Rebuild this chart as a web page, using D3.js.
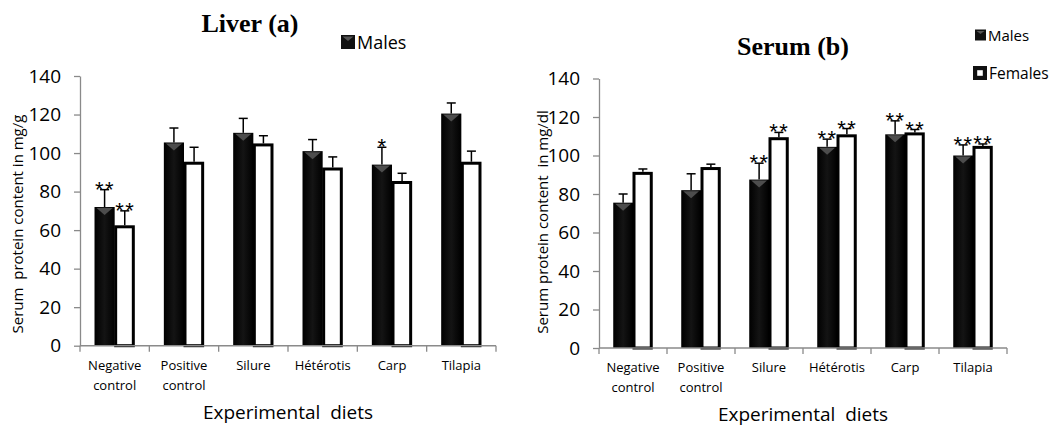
<!DOCTYPE html>
<html><head><meta charset="utf-8">
<script src="https://cdn.jsdelivr.net/npm/d3@7"></script>
<style>body{margin:0;background:#fff;} svg{display:block;}</style>
</head><body><svg id="c" width="1053" height="427"></svg>
<script>
// ---------- data ----------
const categories = ["Negative control","Positive control","Silure","Hétérotis","Carp","Tilapia"];
const tickLabelLines = [["Negative","control"],["Positive","control"],["Silure"],["Hétérotis"],["Carp"],["Tilapia"]];
const yTicks = [0,20,40,60,80,100,120,140];
const series = ["Males","Females"];

const liverMales      = [72, 105.5, 110.5, 101, 94, 120.5];
const liverMalesSD    = [9, 7.5, 7.5, 6, 9, 5.5];
const liverFemales    = [62.5, 95.5, 105, 92.5, 85.5, 95.5];
const liverFemalesSD  = [7.5, 7.5, 4, 5.5, 4, 5.5];
const liverMalesSig   = ["**","","","","*",""];
const liverFemalesSig = ["**","","","","",""];

const serumMales      = [75.5, 82, 87.5, 104.5, 111, 100];
const serumMalesSD    = [4.5, 8.5, 8.5, 4, 7, 5.5];
const serumFemales    = [91.5, 94, 109.5, 111, 112, 105];
const serumFemalesSD  = [1.5, 1.5, 2.5, 3, 1.5, 1];
const serumMalesSig   = ["","","**","**","**","**"];
const serumFemalesSig = ["","","**","**","**","**"];

// ---------- drawing ----------
const svg = d3.select("#c");
const FONT = "'Open Sans', sans-serif";

const defs = svg.append("defs");
const g1 = defs.append("linearGradient").attr("id","maleGrad").attr("x1","0").attr("x2","1");
g1.append("stop").attr("offset","0").attr("stop-color","#000");
g1.append("stop").attr("offset","0.5").attr("stop-color","#141414");
g1.append("stop").attr("offset","1").attr("stop-color","#000");

function panel(cfg){
  const x = d3.scaleBand().domain(categories).range([cfg.x0, cfg.x1]).padding(0);
  const xs = d3.scaleBand().domain(series).range([0, x.bandwidth()]).paddingInner(0).paddingOuter(0.72);
  const y = d3.scaleLinear().domain([0,140]).range([cfg.yBot, cfg.yTop]);
  const g = svg.append("g");

  // y axis
  const ya = g.append("g").attr("transform",`translate(${cfg.x0},0)`)
    .call(d3.axisLeft(y).tickValues(yTicks).tickSize(6).tickPadding(13).tickSizeOuter(0));
  ya.select(".domain").attr("stroke","#8a8a8a").attr("stroke-width",1.3);
  ya.selectAll(".tick line").attr("stroke","#8a8a8a").attr("stroke-width",1.3);
  ya.selectAll(".tick text").attr("font-family",FONT).attr("font-size",19).attr("fill","#000");

  // y title
  g.append("text").attr("transform",`translate(${cfg.yTitleX},${cfg.yTitleY}) rotate(-90)`)
    .attr("text-anchor","middle").attr("dominant-baseline","central")
    .attr("font-family",FONT).attr("font-size",15).attr("fill","#000")
    .style("white-space","pre").text(cfg.yTitle);

  // bars
  const data = categories.map((c,i)=>({c, i,
    m: cfg.males[i], mSD: cfg.malesSD[i], mSig: cfg.malesSig[i],
    f: cfg.females[i], fSD: cfg.femalesSD[i], fSig: cfg.femalesSig[i]}));

  const grp = g.append("g").selectAll("g").data(data).join("g")
    .attr("transform", d=>`translate(${x(d.c)},0)`);

  // males
  grp.append("rect")
    .attr("x", xs("Males")).attr("width", xs.bandwidth())
    .attr("y", d=>y(d.m)).attr("height", d=>y(0)-y(d.m))
    .attr("fill","url(#maleGrad)");
  grp.append("path").attr("fill","#4d4d4d")
    .attr("d", d=>{const x0=xs("Males")+2, x1=xs("Males")+xs.bandwidth()-2, t=y(d.m)+1;
      return `M${x0},${t}L${x1},${t}L${(x0+x1)/2},${t+7}Z`;});
  // females
  grp.append("rect")
    .attr("x", xs("Females")+1).attr("width", xs.bandwidth()-2.5)
    .attr("y", d=>y(d.f)+1.5).attr("height", d=>y(0)-y(d.f)-1.5)
    .attr("fill","#fff").attr("stroke","#000").attr("stroke-width",3);

  // error bars
  const err = (key, sdKey, s) => {
    const cx = xs(s)+xs.bandwidth()/2;
    grp.append("line").attr("x1",cx).attr("x2",cx)
      .attr("y1",d=>y(d[key])).attr("y2",d=>y(d[key]+d[sdKey]))
      .attr("stroke","#000").attr("stroke-width",1.5);
    grp.append("line").attr("x1",cx-4.5).attr("x2",cx+4.5)
      .attr("y1",d=>y(d[key]+d[sdKey])).attr("y2",d=>y(d[key]+d[sdKey]))
      .attr("stroke","#000").attr("stroke-width",1.5);
  };
  err("m","mSD","Males"); err("f","fSD","Females");

  // significance stars
  const star = (key, sdKey, sigKey, s) => {
    const cx = xs(s)+xs.bandwidth()/2 + 0.5;
    grp.append("text").attr("x",cx).attr("y",d=>y(d[key]+d[sdKey])+7)
      .attr("text-anchor","middle").attr("font-family","'Liberation Sans', sans-serif")
      .attr("font-size",22).attr("letter-spacing",1.5).attr("fill","#000")
      .text(d=>d[sigKey]);
  };
  star("m","mSD","mSig","Males"); star("f","fSD","fSig","Females");

  // x axis
  const xa = g.append("g");
  xa.append("line").attr("x1",cfg.x0).attr("x2",cfg.x1).attr("y1",y(0)).attr("y2",y(0))
    .attr("stroke","#8a8a8a").attr("stroke-width",1.5);
  const bounds = categories.map(c=>x(c)).concat([cfg.x1]);
  xa.selectAll("line.tk").data(bounds).join("line").attr("class","tk")
    .attr("x1",d=>d).attr("x2",d=>d).attr("y1",y(0)).attr("y2",y(0)+6)
    .attr("stroke","#8a8a8a").attr("stroke-width",1.3);
  const lab = xa.selectAll("text.lb").data(categories).join("text").attr("class","lb")
    .attr("text-anchor","middle").attr("font-family",FONT).attr("font-size",13).attr("fill","#000");
  lab.each(function(c,i){
    const t = d3.select(this);
    tickLabelLines[i].forEach((ln,k)=>{
      t.append("tspan").attr("x", x(c)+x.bandwidth()/2).attr("y", cfg.lab1 + k*19.5).text(ln);
    });
  });

  // x title
  g.append("text").attr("x",(cfg.x0+cfg.x1)/2).attr("y",cfg.xTitleY)
    .attr("text-anchor","middle").attr("font-family",FONT).attr("font-size",19)
    .style("white-space","pre").attr("fill","#000").text("Experimental  diets");

  // title
  g.append("text").attr("x",cfg.titleX).attr("y",cfg.titleY)
    .attr("text-anchor","middle").attr("font-family","'Liberation Serif', serif")
    .attr("font-weight","bold").attr("font-size",26).attr("fill","#000").text(cfg.title);

  // legend
  cfg.legend.forEach(L=>{
    const lg = g.append("g").attr("transform",`translate(${L.x},${L.y})`);
    lg.append("rect").attr("x",0).attr("y",-L.s/2).attr("width",L.s).attr("height",L.s).attr("fill","#111");
    if (L.name==="Males") {
      lg.append("path").attr("fill","#555")
        .attr("d",`M1.5,${-L.s/2+1.5}L${L.s-1.5},${-L.s/2+1.5}L${L.s/2},${-1}Z`);
    } else {
      lg.append("rect").attr("x",L.s*0.3).attr("y",-L.s*0.2).attr("width",L.s*0.4).attr("height",L.s*0.4).attr("fill","#fff");
    }
    lg.append("text").attr("x",L.s+2).attr("y",0).attr("dominant-baseline","central")
      .attr("font-family",FONT).attr("font-size",L.fs).attr("fill","#000").text(L.name);
  });
}

panel({x0:80, x1:496, yTop:76, yBot:345.7,
  yTitle:"Serum  protein content in mg/g", yTitleX:17, yTitleY:224,
  title:"Liver (a)", titleX:250, titleY:32, lab1:370, xTitleY:419,
  males:liverMales, malesSD:liverMalesSD, malesSig:liverMalesSig,
  females:liverFemales, femalesSD:liverFemalesSD, femalesSig:liverFemalesSig,
  legend:[{name:"Males", x:341, y:42, s:14, fs:18}]});

panel({x0:599, x1:1007, yTop:78.5, yBot:348,
  yTitle:"Serum protein content  in mg/dl", yTitleX:542, yTitleY:222,
  title:"Serum (b)", titleX:793, titleY:55, lab1:372, xTitleY:421,
  males:serumMales, malesSD:serumMalesSD, malesSig:serumMalesSig,
  females:serumFemales, femalesSD:serumFemalesSD, femalesSig:serumFemalesSig,
  legend:[{name:"Males", x:975, y:35, s:11, fs:15},{name:"Females", x:973, y:73, s:14, fs:15.5}]});
</script></body></html>
